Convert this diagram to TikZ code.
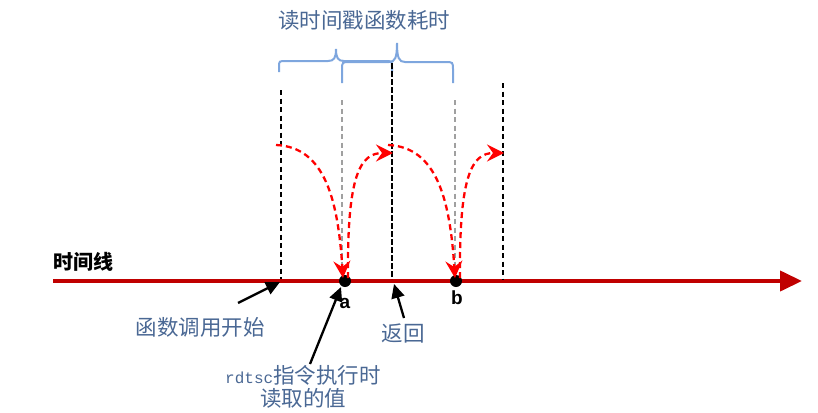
\documentclass[tikz,border=0pt]{standalone}
\usepackage{fontspec}
\setmainfont{Liberation Sans}
\newfontfamily\cjk{Noto Sans CJK SC}
\newfontfamily\monof{Liberation Mono}
\usetikzlibrary{arrows.meta}
\definecolor{txtblue}{HTML}{4A6894}
\definecolor{bracec}{HTML}{7EA6DE}
\definecolor{tl}{HTML}{C00000}
\definecolor{grayd}{HTML}{A0A0A0}
\begin{document}
\begin{tikzpicture}[x=1pt,y=-1pt,
  lbl/.style={font=\cjk\fontsize{21.5}{24}\selectfont, text=txtblue, inner sep=0pt},
  vblack/.style={black, line width=2.2pt, dash pattern=on 5pt off 3.5pt},
  vgray/.style={grayd, line width=2.2pt, dash pattern=on 5pt off 3.5pt},
  redarc/.style={red, line width=2.3pt, dash pattern=on 6pt off 4pt,
    -{Stealth[length=17pt,width=17pt,inset=6pt]}},
  blkarrow/.style={black, line width=2.3pt, -{Triangle[length=14pt,width=13pt]}},
  bracepath/.style={bracec, line width=2pt},
  dot/.style={circle, fill=black, inner sep=0pt, minimum size=12pt}]
\useasboundingbox (0,0) rectangle (818,412);

% title
\node[lbl] (title) at (364,20) {读时间戳函数耗时};

% braces
\draw[bracepath] (279,72) -- (279,67) .. controls (279,61) .. (286,61) -- (328,61)
  .. controls (334,61) and (336,58) .. (336,49)
  .. controls (336,58) and (338,61) .. (344,61) -- (385,61)
  .. controls (392,61) .. (392,67) -- (392,72);
\draw[bracepath] (342,83) -- (342,70) .. controls (342,62) .. (350,62) -- (389,62)
  .. controls (395,62) and (397,58) .. (397,43)
  .. controls (397,58) and (399,62) .. (405,62) -- (445,62)
  .. controls (453,62) .. (453,70) -- (453,83);

% timeline
\coordinate (tl0) at (53,281);
\coordinate (tl1) at (802,281);
\draw[tl, line width=4pt, -{Triangle[length=22pt,width=20pt]}] (tl0) -- (tl1);
\node[font=\cjk\bfseries\fontsize{20}{22}\selectfont, inner sep=0pt] (tllabel) at (83,262) {时间线};

% vertical dashed lines
\coordinate (v1t) at (281,90);  \coordinate (v1b) at (281,279);
\coordinate (v2t) at (342,100); \coordinate (v2b) at (342,272);
\coordinate (v3t) at (392,63);  \coordinate (v3b) at (392,279);
\coordinate (v4t) at (455,100); \coordinate (v4b) at (455,272);
\coordinate (v5t) at (503,83);  \coordinate (v5b) at (503,279);
\draw[vblack] (v1t) -- (v1b);
\draw[vgray] (v2t) -- (v2b);
\draw[vblack, dash pattern=on 6pt off 2pt] (v3t) -- (v3b);
\draw[vgray] (v4t) -- (v4b);
\draw[vblack] (v5t) -- (v5b);

% dots
\node[dot] (a) at (345,281) {};
\node[dot] (b) at (456,281) {};
\node[font=\bfseries\fontsize{19}{21}\selectfont, inner sep=0pt] (alab) at (345,303) {a};
\node[font=\bfseries\fontsize{19}{21}\selectfont, inner sep=0pt] (blab) at (457,298) {b};

% red dashed curves
\coordinate (r1s) at (276,145); \coordinate (r1e) at (343,278);
\coordinate (r2s) at (348,278); \coordinate (r2e) at (393,153);
\coordinate (r3s) at (388,145); \coordinate (r3e) at (455,278);
\coordinate (r4s) at (460,278); \coordinate (r4e) at (504,153);
\draw[redarc] (r1s) .. controls (325,147) and (338,200) .. (r1e);
\draw[redarc] (r2s) .. controls (347,175) and (360,153) .. (r2e);
\draw[redarc] (r3s) .. controls (437,147) and (450,200) .. (r3e);
\draw[redarc] (r4s) .. controls (459,175) and (472,153) .. (r4e);

% labels
\node[lbl] (start) at (200,327) {函数调用开始};
\node[lbl] (ret) at (403,333) {返回};
\node[lbl] (rd1) at (303,375) {{\monof\fontsize{16}{20}\selectfont rdtsc}指令执行时};
\node[lbl] (rd2) at (303,398) {读取的值};

% black arrows
\coordinate (s1) at (238,303); \coordinate (s2) at (280,282);
\coordinate (q1) at (310,364); \coordinate (q2) at (341,287);
\coordinate (p1) at (404,318); \coordinate (p2) at (394,284);
\draw[blkarrow] (s1) -- (s2);
\draw[blkarrow] (q1) -- (q2);
\draw[blkarrow] (p1) -- (p2);
\end{tikzpicture}
\end{document}
